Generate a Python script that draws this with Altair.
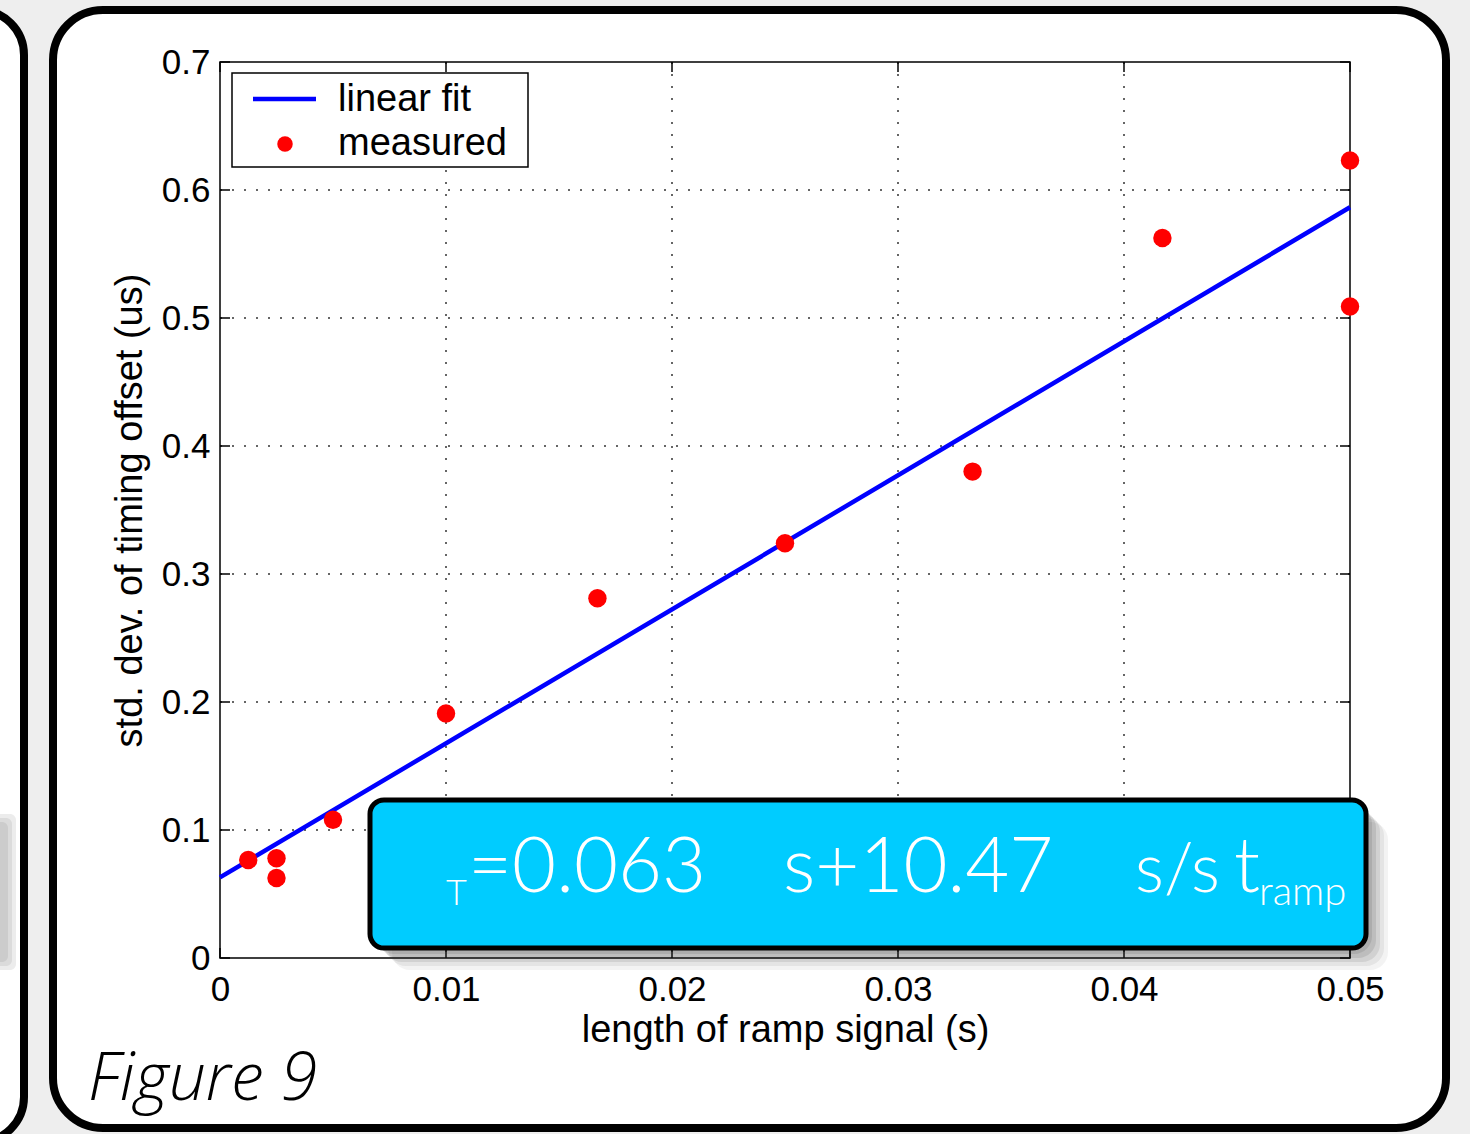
import altair as alt
import pandas as pd

# ---- data ----
meas_x = [0.00125, 0.0025, 0.0025, 0.005, 0.01, 0.0167, 0.025, 0.0333, 0.0417, 0.05, 0.05]
meas_y = [0.0765, 0.078, 0.0625, 0.108, 0.191, 0.281, 0.324, 0.380, 0.5625, 0.623, 0.509]
fit_x = [0.0, 0.05]
fit_y = [0.063, 0.5865]
x_ticks = [0, 0.01, 0.02, 0.03, 0.04, 0.05]
y_ticks = [0, 0.1, 0.2, 0.3, 0.4, 0.5, 0.6, 0.7]
x_grid = [0.01, 0.02, 0.03, 0.04]
y_grid = [0.1, 0.2, 0.3, 0.4, 0.5, 0.6]

W, H = 1130, 896
FONT = "Liberation Sans"

meas = pd.DataFrame({"x": meas_x, "y": meas_y})
fit = pd.DataFrame({"x": fit_x, "y": fit_y})
xt = pd.DataFrame({"x": x_ticks})
yt = pd.DataFrame({"y": y_ticks})
xg = pd.DataFrame({"x": x_grid})
yg = pd.DataFrame({"y": y_grid})
one = alt.Data(values=[{"a": 1}])

xscale = alt.Scale(domain=[0, 0.05], nice=False, zero=False)
yscale = alt.Scale(domain=[0, 0.7], nice=False, zero=False)
xaxis = alt.Axis(values=x_ticks, labelExpr="format(datum.value, '~g')", grid=False, ticks=False,
                 domain=False, labelFlush=False, labelOverlap=False, labelPadding=14, zindex=1,
                 labelFontSize=35, labelFont=FONT, labelColor="black",
                 titleFontSize=38, titleFont=FONT, titleFontWeight="normal", titleColor="black",
                 titlePadding=4)
yaxis = alt.Axis(values=y_ticks, labelExpr="format(datum.value, '~g')", grid=False, ticks=False,
                 domain=False, labelFlush=False, labelOverlap=False, labelPadding=10, zindex=1,
                 labelFontSize=35, labelFont=FONT, labelColor="black",
                 titleFontSize=38, titleFont=FONT, titleFontWeight="normal", titleColor="black",
                 titlePadding=12)
XT = "length of ramp signal (s)"
YT = "std. dev. of timing offset (us)"


def X(f):
    return alt.X(f"{f}:Q", scale=xscale, axis=xaxis, title=XT)


def Y(f):
    return alt.Y(f"{f}:Q", scale=yscale, axis=yaxis, title=YT)


layers = []

# slide frames (decoration)
layers.append(alt.Chart(one).mark_rect(fill="white", stroke="black", strokeWidth=8, cornerRadius=45).encode(
    x=alt.value(-330), x2=alt.value(-196), y=alt.value(-52), y2=alt.value(1080)))
for d, op in [(0, 0.12), (4, 0.12), (8, 0.12)]:
    layers.append(alt.Chart(one).mark_rect(fill="#666", opacity=op, cornerRadius=6).encode(
        x=alt.value(-240), x2=alt.value(-212 + d), y=alt.value(760 - d), y2=alt.value(900 + d)))
layers.append(alt.Chart(one).mark_rect(fill="white", stroke="black", strokeWidth=8, cornerRadius=50).encode(
    x=alt.value(-167), x2=alt.value(1226), y=alt.value(-52), y2=alt.value(1066)))

# grid
layers.append(alt.Chart(xg).mark_rule(color="#666", strokeWidth=2, strokeDash=[2, 10]).encode(
    x=X("x"), y=alt.value(0), y2=alt.value(H)))
layers.append(alt.Chart(yg).mark_rule(color="#666", strokeWidth=2, strokeDash=[2, 10]).encode(
    y=Y("y"), x=alt.value(0), x2=alt.value(W)))

# inward ticks
layers.append(alt.Chart(xt).mark_rule(color="black", strokeWidth=1.5).encode(
    x=X("x"), y=alt.value(H), y2=alt.value(H - 10)))
layers.append(alt.Chart(xt).mark_rule(color="black", strokeWidth=1.5).encode(
    x=X("x"), y=alt.value(0), y2=alt.value(10)))
layers.append(alt.Chart(yt).mark_rule(color="black", strokeWidth=1.5).encode(
    y=Y("y"), x=alt.value(0), x2=alt.value(10)))
layers.append(alt.Chart(yt).mark_rule(color="black", strokeWidth=1.5).encode(
    y=Y("y"), x=alt.value(W), x2=alt.value(W - 10)))

# plot border
layers.append(alt.Chart(one).mark_rect(fill=None, stroke="black", strokeWidth=1.5).encode(
    x=alt.value(0), x2=alt.value(W), y=alt.value(0), y2=alt.value(H)))

# data
layers.append(alt.Chart(fit).mark_line(color="#0000ff", strokeWidth=4.5).encode(x=X("x"), y=Y("y")))
layers.append(alt.Chart(meas).mark_point(filled=True, shape="circle", size=340, color="#ff0000", opacity=1).encode(
    x=X("x"), y=Y("y")))

# legend
layers.append(alt.Chart(one).mark_rect(fill="white", stroke="black", strokeWidth=1.5).encode(
    x=alt.value(12), x2=alt.value(308), y=alt.value(11), y2=alt.value(105)))
layers.append(alt.Chart(one).mark_rule(color="#0000ff", strokeWidth=4.5).encode(
    x=alt.value(33), x2=alt.value(96), y=alt.value(37)))
layers.append(alt.Chart(one).mark_point(filled=True, shape="circle", size=240, color="#ff0000", opacity=1).encode(
    x=alt.value(65), y=alt.value(82)))
layers.append(alt.Chart(one).mark_text(text="linear fit", font=FONT, fontSize=38, align="left",
                                        baseline="middle", color="black").encode(
    x=alt.value(118), y=alt.value(38)))
layers.append(alt.Chart(one).mark_text(text="measured", font=FONT, fontSize=38, align="left",
                                        baseline="middle", color="black").encode(
    x=alt.value(118), y=alt.value(82)))

# equation box shadow
for d, op in [(22, 0.06), (18, 0.08), (14, 0.10), (10, 0.12), (6, 0.12)]:
    layers.append(alt.Chart(one).mark_rect(fill="#333", opacity=op, cornerRadius=18).encode(
        x=alt.value(150 + d), x2=alt.value(1146 + d), y=alt.value(738 + d), y2=alt.value(886 + d)))
# equation box
layers.append(alt.Chart(one).mark_rect(fill="#00ccff", stroke="black", strokeWidth=5, cornerRadius=14).encode(
    x=alt.value(150), x2=alt.value(1146), y=alt.value(738), y2=alt.value(886)))
EQF = "Lato"
for txt, xx, yy, fs in [("T", 226, 843, 36), ("=0.063", 248, 830, 76), ("s+10.47", 563, 830, 76),
                        ("s/s", 915, 830, 68), ("t", 1014, 830, 76), ("ramp", 1039, 843, 40)]:
    layers.append(alt.Chart(one).mark_text(text=txt, font=EQF, fontWeight=300, fontSize=fs, align="left",
                                            baseline="alphabetic", color="white").encode(
        x=alt.value(xx), y=alt.value(yy)))

# figure label
layers.append(alt.Chart(one).mark_text(text="Figure 9", font="Open Sans", fontStyle="italic", fontWeight=300,
                                        fontSize=66, align="left", baseline="alphabetic",
                                        color="black").encode(x=alt.value(-132), y=alt.value(1038)))

chart = alt.layer(*layers).properties(
    width=W, height=H,
    autosize=alt.AutoSizeParams(type="none"),
    padding={"left": 220, "top": 62, "right": 120, "bottom": 176},
    background="#eeeeee",
).configure_view(stroke=None)

chart.save("out.html", embed_options={"renderer": "svg", "actions": False})
